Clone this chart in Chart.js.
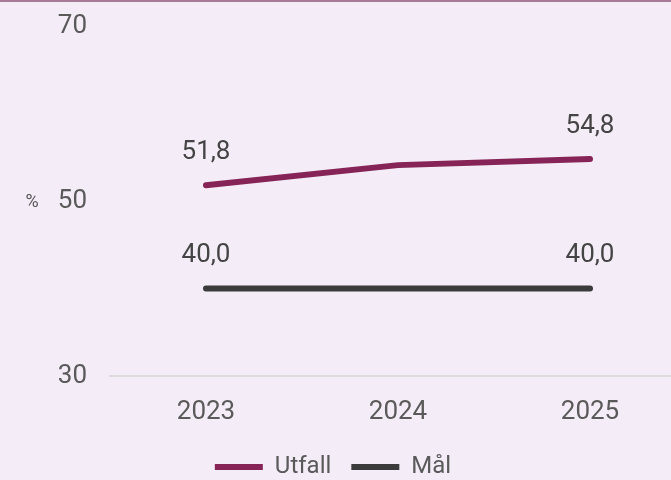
<!DOCTYPE html>
<html>
<head>
<meta charset="utf-8">
<script src="https://cdn.jsdelivr.net/npm/chart.js@4/dist/chart.umd.min.js"></script>
<style>
  html, body { margin: 0; padding: 0; overflow: hidden; background: #f4ecf6; }
  #wrap { width: 671px; height: 478px; overflow: hidden; border-top: 2px solid #a77b98; }
  #myChart { display: block; margin-left: -20px; margin-top: -11px; }
</style>
</head>
<body>
<div id="wrap"><canvas id="myChart" width="706" height="498"></canvas></div>
<script>
const years = ["2023", "2024", "2025"];
const utfall = [51.8, 54.1, 54.8];
const maal = [40.0, 40.0, 40.0];
const yTicks = [30, 50, 70];

const fontFamily = "Roboto, 'Noto Sans', sans-serif";

// value labels on first and last point only
const endLabels = {
    id: "endLabels",
    afterDatasetsDraw(chart) {
        const ctx = chart.ctx;
        ctx.save();
        ctx.font = "26px " + fontFamily;
        ctx.fillStyle = "#444444";
        ctx.textAlign = "center";
        ctx.textBaseline = "middle";
        chart.data.datasets.forEach((ds, i) => {
            const meta = chart.getDatasetMeta(i);
            [0, ds.data.length - 1].forEach(j => {
                const pt = meta.data[j];
                ctx.fillText(ds.data[j].toFixed(1).replace(".", ","), pt.x, pt.y - 33);
            });
        });
        // unit label left of the y axis
        const y = chart.scales.y;
        ctx.font = "18px " + fontFamily;
        ctx.fillStyle = "#555555";
        ctx.fillText("%", 52, y.getPixelForValue(50) + 1);
        ctx.restore();
    }
};

new Chart(document.getElementById("myChart"), {
    type: "line",
    data: {
        labels: years,
        datasets: [
            {
                label: "Utfall",
                data: utfall,
                borderColor: "#862457",
                backgroundColor: "#862457",
                borderWidth: 6,
                borderCapStyle: "round",
                pointRadius: 0,
                fill: false
            },
            {
                label: "Mål",
                data: maal,
                borderColor: "#3b3b3b",
                backgroundColor: "#3b3b3b",
                borderWidth: 6,
                borderCapStyle: "round",
                pointRadius: 0,
                fill: false
            }
        ]
    },
    options: {
        responsive: false,
        animation: false,
        layout: { padding: { top: 35, right: 0, left: 0, bottom: 0 } },
        scales: {
            x: {
                offset: true,
                grid: { display: false },
                border: { display: true, color: "#dcdcdc", width: 2 },
                afterFit: axis => { axis.height = 59; },
                ticks: { color: "#5a5a5a", font: { family: fontFamily, size: 26 }, padding: 13 }
            },
            y: {
                min: 30,
                max: 70,
                afterBuildTicks: axis => { axis.ticks = yTicks.map(v => ({ value: v })); },
                afterFit: axis => { axis.width = 130; },
                grid: { display: false },
                border: { display: false },
                ticks: { color: "#5a5a5a", font: { family: fontFamily, size: 26 }, padding: 15 }
            }
        },
        plugins: {
            legend: {
                position: "bottom",
                labels: {
                    usePointStyle: true,
                    pointStyle: "line",
                    pointStyleWidth: 48,
                    boxHeight: 6,
                    color: "#5a5a5a",
                    font: { family: fontFamily, size: 24 },
                    padding: 20
                }
            },
            tooltip: { enabled: false }
        }
    },
    plugins: [endLabels]
});
</script>
</body>
</html>
